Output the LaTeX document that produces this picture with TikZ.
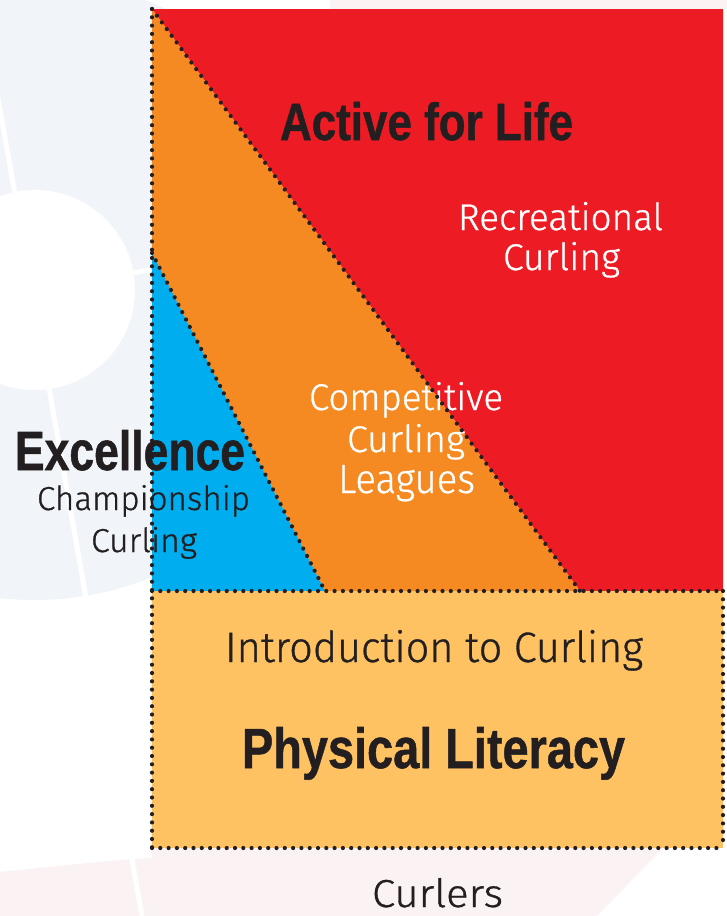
\documentclass[tikz,border=0pt]{standalone}
\usepackage{graphicx}
\usepackage{fontspec}
\usetikzlibrary{decorations.markings}
\setmainfont{Liberation Sans}[BoldFeatures={FakeBold=1}]
\newfontfamily\lightface{Fira Sans Light}[FakeBold=0.8]

\definecolor{ink}{HTML}{231F20}
\definecolor{lifered}{HTML}{ED1C24}
\definecolor{leagueorange}{HTML}{F48A21}
\definecolor{champblue}{HTML}{00AEEF}
\definecolor{introyellow}{HTML}{FEC263}
\definecolor{iceblue}{HTML}{F1F4F9}
\definecolor{blush}{HTML}{FBF2F3}

% text squeezed into a box of given width and height (pt)
\newcommand{\fitted}[3]{\resizebox{#1pt}{#2pt}{#3}}

\tikzset{
  caption/.style={inner sep=0pt, outer sep=0pt, anchor=base west},
  heavy/.style={caption, text=ink, font=\bfseries},
  thin/.style={caption, font=\lightface},
  dotrow/.style={decoration={markings,
      mark=between positions 0 and 1 step 8.3pt with {\fill[ink] (0,0) circle (2.1pt);}},
    decorate},
  ringline/.style={draw=white, line width=5pt},
}

\begin{document}
\begin{tikzpicture}[x=1pt, y=-1pt]
\useasboundingbox (0,0) rectangle (727,916);

% faint curling-house backdrop
\begin{scope}
  \clip (0,0) rectangle (727,916);
  \fill[white] (0,0) rectangle (727,916);
  \fill[iceblue] (35,290) circle (310pt);
  \fill[white] (35,290) circle (100pt);
  \fill[blush] (0,872) .. controls (60,866) and (110,860) .. (152,858)
     -- (152,848) -- (663,848) -- (597,916) -- (0,916) -- cycle;
  \fill[blush] (330,0) rectangle (727,9);
  \draw[ringline] (-2,98) -- (142,916);
  \draw[ringline] (-10,299) -- (160,268);
\end{scope}

% corners of the model
\coordinate (TL) at (152,9);
\coordinate (TR) at (723,9);
\coordinate (MR) at (723,591);
\coordinate (RD) at (580,591);
\coordinate (BD) at (325,591);
\coordinate (ML) at (152,591);
\coordinate (LB) at (152,253);
\coordinate (BR) at (723,848);
\coordinate (BL) at (152,848);

% coloured stages
\fill[lifered] (TL) -- (TR) -- (MR) -- (RD) -- cycle;
\fill[leagueorange] (TL) -- (RD) -- (BD) -- (LB) -- cycle;
\fill[champblue] (LB) -- (BD) -- (ML) -- cycle;
\fill[introyellow] (ML) rectangle (BR);

% labels
\node[heavy] (afl) at (280,140) {\fitted{293}{38}{Active for Life}};
\node[thin, text=white] (rec1) at (458,230) {\fitted{205}{28}{Recreational}};
\node[thin, text=white] (rec2) at (503,270) {\fitted{117}{28}{Curling}};
\node[thin, text=white] (comp1) at (309,410) {\fitted{194}{28}{Competitive}};
\node[thin, text=white] (comp2) at (347,452) {\fitted{118}{28}{Curling}};
\node[thin, text=white] (comp3) at (338,493) {\fitted{137}{28}{Leagues}};
\node[heavy] (exc) at (15,470) {\fitted{230}{40}{Excellence}};
\node[thin, text=ink] (champ1) at (37,510) {\fitted{213}{25}{Championship}};
\node[thin, text=ink] (champ2) at (91,552) {\fitted{106}{25}{Curling}};
\node[thin, text=ink] (intro) at (225,662) {\fitted{418}{32}{Introduction to Curling}};
\node[heavy] (pl) at (242,768) {\fitted{383}{41}{Physical Literacy}};
\node[thin, text=ink] (curlers) at (372,907) {\fitted{131}{29}{Curlers}};

% dotted borders
\path[dotrow] (TL) -- (BL);
\path[dotrow] (TL) -- (RD);
\path[dotrow] (LB) -- (BD);
\path[dotrow] (ML) -- (MR);
\path[dotrow] (MR) -- (BR);
\path[dotrow] (BL) -- (BR);
\end{tikzpicture}
\end{document}
